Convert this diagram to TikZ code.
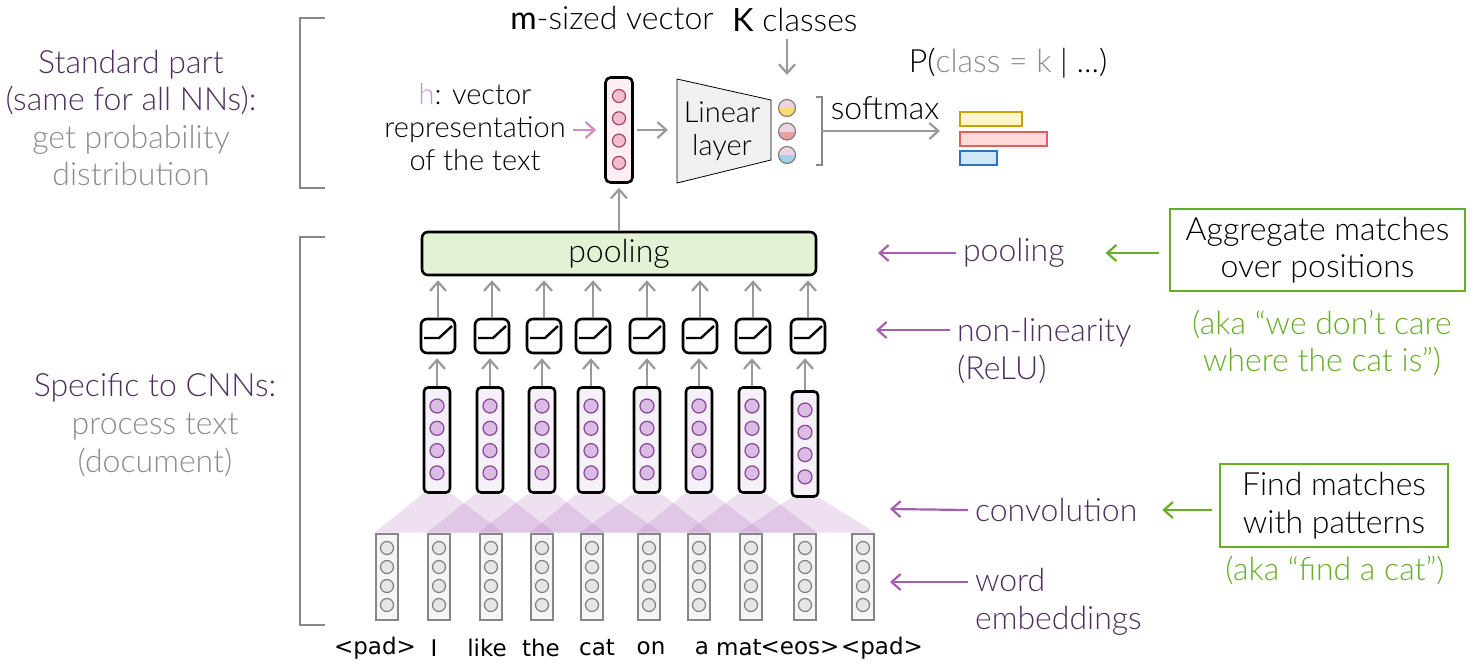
\documentclass[tikz,border=0pt]{standalone}
\usepackage{fontspec}
\IfFontExistsTF{Lato Light}{\setmainfont{Lato Light}[BoldFont={Lato}]}{\setmainfont{Lato}}
\newfontfamily\wordfont{DejaVu Sans}
\usetikzlibrary{positioning,arrows.meta}
\definecolor{labelpurple}{RGB}{80,45,95}
\definecolor{arrowpurple}{RGB}{165,95,175}
\definecolor{softgray}{RGB}{140,140,140}
\definecolor{linegray}{RGB}{135,135,135}
\definecolor{mossgreen}{RGB}{102,174,40}
\definecolor{hpink}{RGB}{215,140,190}
\definecolor{convfill}{RGB}{176,112,192}
\definecolor{outyellow}{RGB}{248,220,110}
\definecolor{outred}{RGB}{232,160,160}
\definecolor{outblue}{RGB}{160,210,232}

\tikzset{
  arrowline/.style={-{Straight Barb[length=4.5pt,width=8pt]}, line width=1.1pt},
  grayarrow/.style={arrowline, draw=linegray!85},
  purplearrow/.style={arrowline, draw=arrowpurple},
  greenarrow/.style={arrowline, draw=mossgreen},
  big/.style={font=\fontsize{16}{18.8}\selectfont},
  mid/.style={font=\fontsize{14.5}{16.5}\selectfont},
  hvec/.style={draw, line width=1.3pt, rounded corners=2.5pt, fill={rgb,255:red,252;green,238;blue,242}, minimum width=13.5pt, minimum height=52.5pt},
  hdot/.style={circle, draw={rgb,255:red,160;green,70;blue,110}, fill={rgb,255:red,242;green,190;blue,205}, inner sep=0pt, minimum size=6.5pt, line width=0.6pt},
  outdot/.style={circle, draw=gray, fill={rgb,255:red,236;green,212;blue,228}, inner sep=0pt, minimum size=8.5pt, line width=0.6pt},
  convvec/.style={draw, line width=1.3pt, rounded corners=2pt, fill={rgb,255:red,246;green,240;blue,248}, minimum width=13pt, minimum height=52.5pt},
  convdot/.style={circle, draw={rgb,255:red,135;green,70;blue,150}, fill={rgb,255:red,218;green,188;blue,228}, inner sep=0pt, minimum size=7pt, line width=0.6pt},
  wordvec/.style={draw=linegray, line width=1.3pt, fill={rgb,255:red,245;green,245;blue,245}, minimum width=11pt, minimum height=43pt},
  worddot/.style={circle, draw=gray, fill={rgb,255:red,230;green,230;blue,230}, inner sep=0pt, minimum size=6.5pt, line width=0.6pt},
  relubox/.style={draw, line width=1.3pt, rounded corners=3pt, fill=white, minimum size=17pt},
  poolbox/.style={draw, line width=1.3pt, rounded corners=3pt, fill={rgb,255:red,227;green,242;blue,212}, minimum width=197pt, minimum height=21.5pt},
  greenbox/.style={draw=mossgreen, line width=1.2pt, align=center},
  bar/.style={line width=1pt, minimum height=7pt, inner sep=0pt, anchor=west},
}

\begin{document}
\begin{tikzpicture}[x=0.5pt,y=-0.5pt]
\useasboundingbox (0,0) rectangle (1480,670);

% brackets on the left
\draw[linegray, line width=1.2pt] (325,18) -- (300,18) -- (300,188) -- (325,188);
\draw[linegray, line width=1.2pt] (325,237) -- (300,237) -- (300,625) -- (325,625);
\node[big, align=center] (std) at (131,118) {\textcolor{labelpurple}{Standard part}\\\textcolor{labelpurple}{(same for all NNs):}\\\textcolor{softgray}{get probability}\\\textcolor{softgray}{distribution}};
\node[big, align=center] (cnn) at (155,425) {\textcolor{labelpurple}{Specific to CNNs:}\\\textcolor{softgray}{process text}\\\textcolor{softgray}{(document)}};

% text vector h
\node[hvec] (h) at (619,130) {};
\foreach \k in {0,...,3}
  \node[hdot] (hd\k) at (619,96+22.3*\k) {};
\node[mid, align=center] (hlab) at (475,127) {\textcolor{hpink}{h}: vector\\representation\\of the text};
\draw[arrowline, draw=hpink, shorten >=4pt] (hlab.east |- h) -- (h.west);
\node[big] (msize) at (612,18) {\textbf{m}-sized vector};

% linear layer
\draw[fill={rgb,255:red,240;green,240;blue,240}] (677,79) -- (771,100) -- (771,160) -- (677,183) -- cycle;
\node[mid, align=center] (lin) at (722,131) {Linear\\layer};
\coordinate (linw) at (677,130);
\draw[grayarrow, shorten >=4.5pt, shorten <=1.5pt] (h.east) -- (linw);

% outputs
\foreach \c [count=\k from 0] in {outyellow,outred,outblue}
  \node[outdot, path picture={\fill[\c] (path picture bounding box.west) rectangle (path picture bounding box.south east);}] (o\k) at (787,108+23.5*\k) {};
\node[big] (kcls) at (795,20) {\textbf{K} classes};
\draw[grayarrow, shorten >=12pt] (kcls.south -| o0) -- (o0.north);

% softmax
\draw[linegray, line width=1.2pt] (816,97) -- (822,97) -- (822,165) -- (816,165);
\coordinate (brk) at (822,131);
\coordinate (bars) at (940,131);
\node[big] (smx) at (885,108) {softmax};
\draw[grayarrow] (brk) -- (bars);
\node[big] (prob) at (1008,63) {P(\textcolor{softgray}{class = k} | ...)};
\node[bar, draw={rgb,255:red,200;green,160;blue,0}, fill={rgb,255:red,255;green,245;blue,204}, minimum width=31pt] (b0) at (959,119) {};
\node[bar, draw={rgb,255:red,224;green,96;blue,96}, fill={rgb,255:red,255;green,218;blue,218}, minimum width=43.5pt] (b1) at (959,138.5) {};
\node[bar, draw={rgb,255:red,48;green,112;blue,192}, fill={rgb,255:red,207;green,232;blue,245}, minimum width=18.5pt] (b2) at (959,158) {};

% pooling
\node[poolbox, big] (pool) at (619,253.5) {pooling};
\draw[grayarrow, shorten >=2pt] (pool.north) -- (h.south);

% non-linearity
\foreach \x [count=\i] in {438,492,544,593,647,700,753,808} {
  \node[relubox] (r\i) at (\x,336) {};
  \draw[line width=1.2pt] ([shift={(-14,2)}]r\i.center) -- ++(15,0) -- ++(13,-12);
  \draw[grayarrow, shorten >=2pt] (r\i.north) -- (r\i.north |- pool.south);
}

% convolution outputs
\foreach \x/\y [count=\i] in {437/440,490/440,542/440,591/440,647/440,699/440,752/440,805/444} {
  \node[convvec] (c\i) at (\x,\y) {};
  \foreach \k in {0,...,3}
    \node[convdot] (cd\i-\k) at (\x,\y-34+22.3*\k) {};
  \draw[grayarrow, shorten >=2pt] (c\i.north) -- (c\i.north |- r\i.south);
}

% word embeddings
\foreach \x/\tx/\w [count=\i] in {387/375/{<pad>},439/434/I,491/487/like,542/541/the,592/597/cat,649/651/on,699/702/a,751/739/mat,805/800/{<eos>},863/882/{<pad>}} {
  \node[wordvec] (w\i) at (\x,577) {};
  \foreach \k in {0,...,3}
    \node[worddot] (wd\i-\k) at (\x,548+19*\k) {};
  \node[font=\wordfont\fontsize{11.5}{14}\selectfont] (t\i) at (\tx,648) {\w};
}
\foreach \i [evaluate=\i as \j using int(\i+2)] in {1,...,8}
  \fill[convfill, opacity=0.22] (c\i.south west) -- (c\i.south east) -- (w\j.north east) -- (w\i.north west) -- cycle;

% labels on the right
\node[big, labelpurple, anchor=west] (lpool) at (956,253) {pooling};
\node[big, labelpurple, anchor=west, align=left] (lrelu) at (950,351) {non-linearity\\(ReLU)};
\node[big, labelpurple, anchor=west] (lconv) at (968,510) {convolution};
\node[big, labelpurple, anchor=west, align=left] (lword) at (968,602) {word\\embeddings};
\coordinate (apool) at (878,253);
\coordinate (arelu) at (876,330);
\coordinate (aconv) at (890,509);
\coordinate (aword) at (890,582);
\draw[purplearrow] (lpool.west) -- (apool);
\draw[purplearrow] (lrelu.west |- arelu) -- (arelu);
\draw[purplearrow] (lconv.west) -- (aconv);
\draw[purplearrow] (lword.west |- aword) -- (aword);

% green notes
\node[greenbox, big, minimum width=147.5pt, minimum height=41pt] (gagg) at (1317.5,250) {Aggregate matches\\over positions};
\node[big, mossgreen, align=center] (gaka) at (1322,343) {(aka “we don’t care\\where the cat is”)};
\node[greenbox, big, minimum width=114pt, minimum height=41.5pt] (gfind) at (1334,505.5) {Find matches\\with patterns};
\node[big, mossgreen] (gfaka) at (1335,570) {(aka “find a cat”)};
\draw[greenarrow, shorten <=5pt, shorten >=17pt] (gagg.west |- lpool) -- (lpool.east);
\draw[greenarrow, shorten <=3.5pt, shorten >=9pt] (gfind.west |- lconv) -- (lconv.east);
\end{tikzpicture}
\end{document}
